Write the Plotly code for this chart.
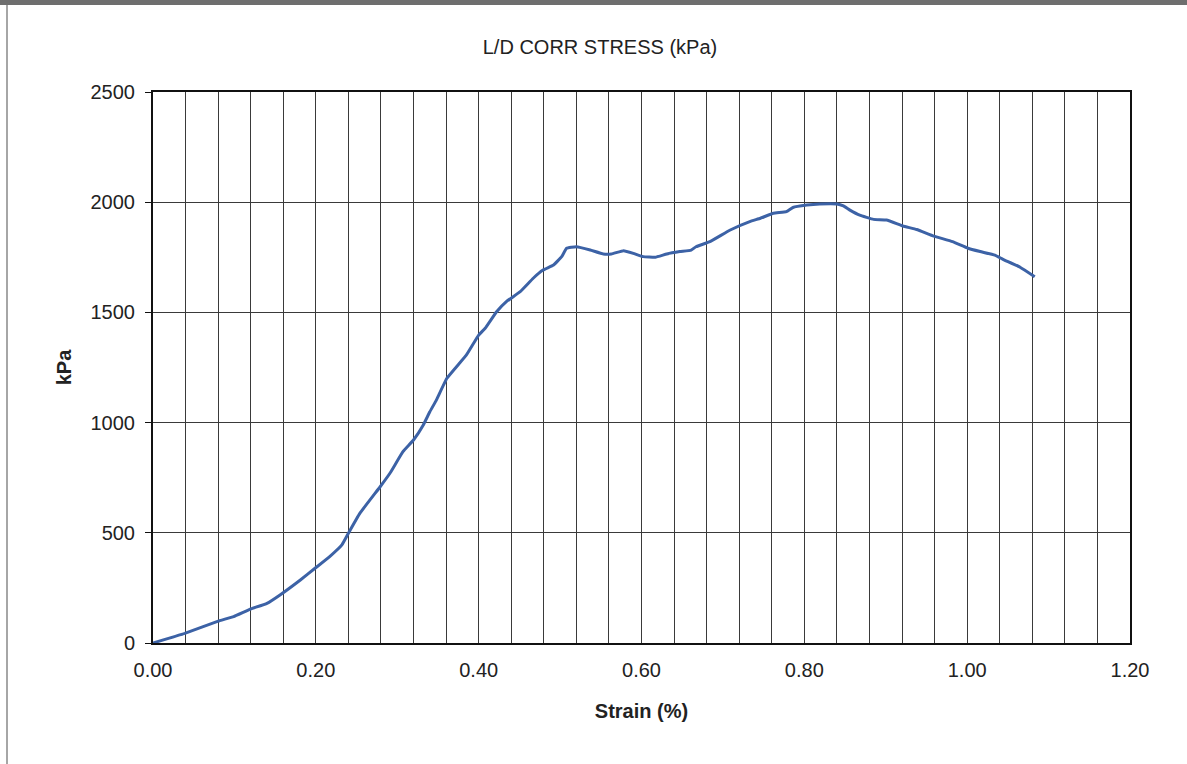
import plotly.graph_objects as go

strain = [0.000, 0.039, 0.081, 0.099, 0.119, 0.140, 0.156, 0.181, 0.199, 0.217, 0.232,
          0.240, 0.254, 0.279, 0.291, 0.307, 0.320, 0.332, 0.340, 0.348, 0.361, 0.385,
          0.400, 0.408, 0.422, 0.434, 0.451, 0.467, 0.479, 0.492, 0.502, 0.508, 0.520,
          0.537, 0.553, 0.563, 0.578, 0.590, 0.602, 0.617, 0.631, 0.647, 0.661, 0.667,
          0.684, 0.709, 0.733, 0.746, 0.762, 0.778, 0.786, 0.803, 0.819, 0.840, 0.848,
          0.856, 0.868, 0.885, 0.901, 0.921, 0.938, 0.959, 0.982, 1.001, 1.016, 1.034,
          1.044, 1.065, 1.083]
stress = [0, 44, 100, 120, 153, 180, 218, 286, 339, 392, 445,
          498, 588, 709, 770, 868, 921, 989, 1049, 1102, 1201, 1307,
          1397, 1428, 1503, 1549, 1594, 1655, 1692, 1715, 1753, 1791, 1798,
          1783, 1765, 1765, 1780, 1768, 1753, 1750, 1765, 1776, 1783, 1798,
          1821, 1874, 1912, 1927, 1950, 1957, 1976, 1987, 1992, 1992, 1983,
          1964, 1941, 1922, 1919, 1892, 1876, 1846, 1821, 1791, 1776, 1760,
          1741, 1705, 1662]

x_ticks = [0.0, 0.2, 0.4, 0.6, 0.8, 1.0, 1.2]
x_tick_labels = ["0.00", "0.20", "0.40", "0.60", "0.80", "1.00", "1.20"]
y_ticks = [0, 500, 1000, 1500, 2000, 2500]

W, H = 1187, 764
L, R, T, B = 153, 1130, 92, 643

fig = go.Figure()
fig.add_trace(go.Scatter(x=strain, y=stress, mode="lines",
                         line=dict(color="#3C62A6", width=3, shape="spline", smoothing=0.3),
                         showlegend=False, hoverinfo="skip"))

font = "Liberation Sans, Arial, sans-serif"
fs = 20
fig.update_layout(
    width=W, height=H,
    margin=dict(l=L, r=W - R, t=T, b=H - B, pad=0),
    paper_bgcolor="white", plot_bgcolor="white",
    font=dict(family=font, size=fs, color="#222"),
    title=dict(text="L/D CORR STRESS (kPa)", x=600 / W, xanchor="center",
               y=1 - 47 / H, yanchor="middle", font=dict(size=fs, color="#222")),
    xaxis=dict(range=[0, 1.2], tickvals=x_ticks, ticktext=x_tick_labels,
               showgrid=True, gridcolor="#3a3a3a", gridwidth=1,
               minor=dict(dtick=0.04, tick0=0, showgrid=True, gridcolor="#3a3a3a", gridwidth=1),
               showline=True, linecolor="#111", linewidth=2, mirror=True,
               ticks="", zeroline=False, ticklabelstandoff=8,
               title=dict(text="<b>Strain (%)</b>", standoff=24, font=dict(size=fs)),
               tickfont=dict(size=fs)),
    yaxis=dict(range=[0, 2500], tickvals=y_ticks,
               showgrid=True, gridcolor="#3a3a3a", gridwidth=1,
               showline=True, linecolor="#111", linewidth=2, mirror=True,
               ticks="outside", ticklen=6, tickcolor="#111", zeroline=False,
               ticklabelstandoff=6,
               title=dict(text="<b>kPa</b>", standoff=14, font=dict(size=fs)),
               tickfont=dict(size=fs)),
)

# scanned page frame: gray band at top and thin line on the left
def px_x(p):
    return (p - L) / (R - L)

def px_y(p):
    return (B - p) / (B - T)

fig.add_shape(type="rect", xref="paper", yref="paper",
              x0=px_x(0), x1=px_x(W), y0=px_y(5), y1=px_y(0),
              fillcolor="#6e6e6e", line=dict(width=0), layer="above")
fig.add_shape(type="line", xref="paper", yref="paper",
              x0=px_x(7), x1=px_x(7), y0=px_y(5), y1=px_y(H),
              line=dict(color="#888", width=1.5))

fig.write_html("out.html", config={"displayModeBar": False},
               post_script="document.body.style.margin='0';")
